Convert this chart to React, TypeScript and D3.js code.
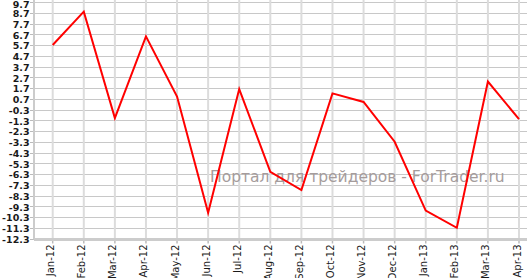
import React from "react";
import * as d3 from "d3";

const months = ["Jan-12","Feb-12","Mar-12","Apr-12","May-12","Jun-12","Jul-12","Aug-12","Sep-12","Oct-12","Nov-12","Dec-12","Jan-13","Feb-13","Mar-13","Apr-13"];
const values = [5.7, 8.8, -1.1, 6.5, 0.9, -9.9, 1.6, -6.1, -7.8, 1.2, 0.4, -3.3, -9.7, -11.3, 2.3, -1.2];
const yTicks = [9.7, 8.7, 7.7, 6.7, 5.7, 4.7, 3.7, 2.7, 1.7, 0.7, -0.3, -1.3, -2.3, -3.3, -4.3, -5.3, -6.3, -7.3, -8.3, -9.3, -10.3, -11.3, -12.3];
const watermark = "Портал для трейдеров - ForTrader.ru";

const W = 527, H = 278;
const left = 34, bottom = 238.5, top = 2;

export default function App() {
  const x = d3.scalePoint<string>().domain(months).range([52.7, 519]);
  const y = d3.scaleLinear().domain([-12.3, 9.7]).range([bottom, top]);
  const line = d3.line<number>().x((_, i) => x(months[i])!).y(d => y(d));
  const font = "'DejaVu Sans', Verdana, sans-serif";
  return (
    <svg width={W} height={H} style={{ position: "absolute", left: 0, top: 0, background: "#fff" }}>
      {yTicks.map(t => (
        <g key={t}>
          <line x1={left} x2={W} y1={Math.round(y(t)) + 0.5} y2={Math.round(y(t)) + 0.5} stroke="#c8c8c8" strokeWidth={1} />
          <line x1={left - 4} x2={left} y1={Math.round(y(t)) + 0.5} y2={Math.round(y(t)) + 0.5} stroke="#bbb" strokeWidth={1} />
          <text x={29.5} y={Math.max(y(t) + 1, 4.3)} dy="0.35em" textAnchor="end" fontSize={9.5} fontWeight="bold" fontFamily={font} fill="#1a1a1a">{t.toFixed(1)}</text>
        </g>
      ))}
      {months.map(m => (
        <g key={m}>
          <line x1={x(m)} x2={x(m)} y1={0} y2={bottom} stroke="#dcdcdc" strokeWidth={2} />
          <line x1={x(m)} x2={x(m)} y1={bottom} y2={bottom + 5} stroke="#bbb" strokeWidth={1.5} />
          <text transform={`translate(${x(m)! + 1.5},${bottom + 6}) rotate(-90)`} textAnchor="end" fontSize={10} fontFamily={font} fill="#1a1a1a">{m}</text>
        </g>
      ))}
      <line x1={left} x2={left} y1={0} y2={bottom + 1} stroke="#ccc" strokeWidth={2} />
      <line x1={left} x2={W} y1={bottom + 1} y2={bottom + 1} stroke="#ccc" strokeWidth={3} />
      <text x={210} y={182} fontSize={15.5} fontFamily={font} fill="#a59c9c">{watermark}</text>
      <path d={line(values)!} fill="none" stroke="#ff0000" strokeWidth={2} strokeLinejoin="miter" />
    </svg>
  );
}
